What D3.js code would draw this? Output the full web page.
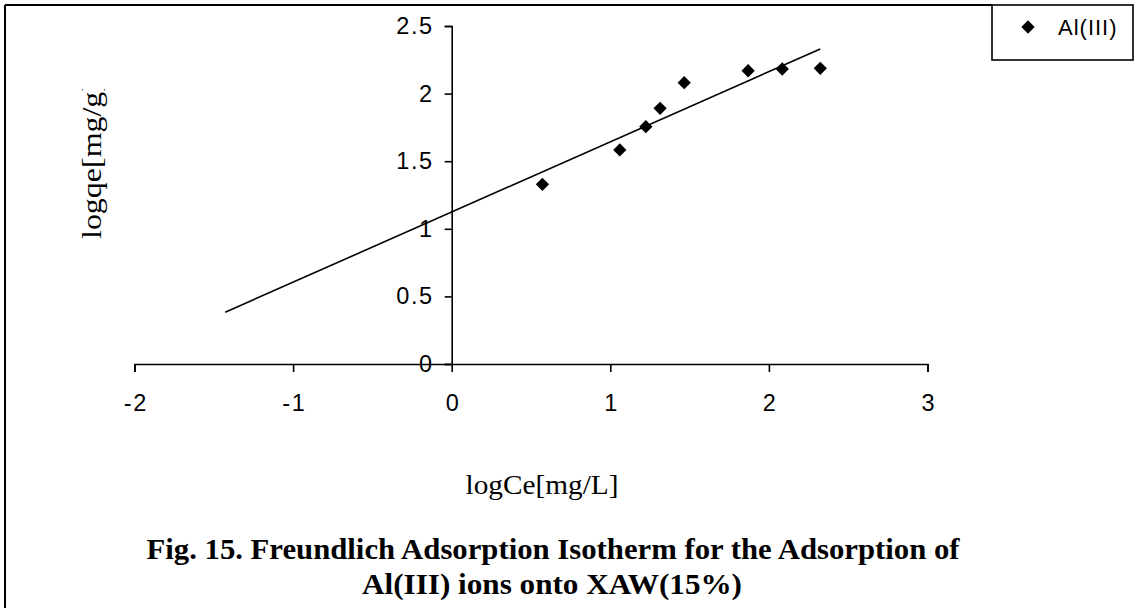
<!DOCTYPE html>
<html>
<head>
<meta charset="utf-8">
<script src="https://cdn.jsdelivr.net/npm/d3@7"></script>
<style>
  html, body { margin: 0; padding: 0; background: #fff; }
  svg { display: block; }
</style>
</head>
<body>
<svg id="chart" width="1136" height="608"></svg>
<script>
// Freundlich isotherm data: log Ce vs log qe for Al(III)
const logCe = [0.572, 1.060, 1.224, 1.314, 1.466, 1.869, 2.084, 2.324];
const logQe = [1.329, 1.583, 1.755, 1.891, 2.081, 2.169, 2.182, 2.187];
const seriesName = "Al(III)";
const xTicks = [-2, -1, 0, 1, 2, 3];
const yTicks = [0, 0.5, 1, 1.5, 2, 2.5];
const trendBackward = 2.0; // trendline extended back by this many x units

const svg = d3.select("#chart");
const W = 1136, H = 608;

// Frame (left and top edges)
svg.append("line").attr("x1", 5).attr("y1", 5).attr("x2", 5).attr("y2", H)
  .attr("stroke", "#000").attr("stroke-width", 2);
svg.append("line").attr("x1", 5).attr("y1", 5).attr("x2", 992).attr("y2", 5)
  .attr("stroke", "#000").attr("stroke-width", 2);

const x = d3.scaleLinear().domain([-2, 3]).range([134.5, 927.5]);
const y = d3.scaleLinear().domain([0, 2.5]).range([364, 26]);

const tickFont = "'Liberation Sans', Arial, sans-serif";
const serif = "'Liberation Serif', 'Times New Roman', serif";
const plainNum = d => String(d); // hyphen-minus, as typed
const spacing = 1.6;

function styleAxis(g) {
  g.attr("font-size", null).attr("font-family", null);
  g.select(".domain").attr("stroke", "#000").attr("stroke-width", 1.6);
  g.selectAll(".tick line").attr("stroke", "#000").attr("stroke-width", 1.6);
  g.selectAll(".tick text")
    .style("font-family", tickFont).style("font-size", "23.5px")
    .style("letter-spacing", spacing + "px").attr("fill", "#000");
}

// X axis through y = 0
svg.append("g")
  .attr("transform", `translate(0,${y(0)})`)
  .call(d3.axisBottom(x).tickValues(xTicks).tickSize(8).tickPadding(22).tickFormat(plainNum))
  .call(styleAxis)
  .selectAll(".tick text").attr("dx", spacing / 2);

// Y axis through x = 0
svg.append("g")
  .attr("transform", `translate(${x(0)},0)`)
  .call(d3.axisLeft(y).tickValues(yTicks).tickSize(7).tickPadding(11).tickFormat(plainNum))
  .call(styleAxis);

// Linear least-squares trendline
const n = logCe.length;
const mx = d3.mean(logCe), my = d3.mean(logQe);
let sxy = 0, sxx = 0;
for (let i = 0; i < n; i++) {
  sxy += (logCe[i] - mx) * (logQe[i] - my);
  sxx += (logCe[i] - mx) * (logCe[i] - mx);
}
const slope = sxy / sxx;
const intercept = my - slope * mx;
const x0 = d3.min(logCe) - trendBackward, x1 = d3.max(logCe);
svg.append("line")
  .attr("x1", x(x0)).attr("y1", y(intercept + slope * x0))
  .attr("x2", x(x1)).attr("y2", y(intercept + slope * x1))
  .attr("stroke", "#000").attr("stroke-width", 1.6);

// Diamond markers
const diamond = d3.symbol().type(d3.symbolSquare).size(88);
svg.append("g").selectAll("path")
  .data(logCe.map((v, i) => [v, logQe[i]]))
  .join("path")
  .attr("d", diamond)
  .attr("transform", d => `translate(${x(d[0])},${y(d[1])}) rotate(45)`)
  .attr("fill", "#000");

// Axis titles
svg.append("text")
  .attr("x", 542).attr("y", 494)
  .attr("text-anchor", "middle")
  .attr("font-family", serif).attr("font-size", 27)
  .attr("textLength", 153).attr("lengthAdjust", "spacingAndGlyphs")
  .text("logCe[mg/L]");

svg.append("defs").append("clipPath").attr("id", "ylabClip")
  .append("rect").attr("x", 50).attr("y", 89).attr("width", 80).attr("height", 200);
svg.append("g").attr("clip-path", "url(#ylabClip)")
  .append("text")
  .attr("transform", "translate(101,239) rotate(-90)")
  .attr("text-anchor", "start")
  .attr("font-family", serif).attr("font-size", 27)
  .attr("textLength", 158).attr("lengthAdjust", "spacingAndGlyphs")
  .text("logqe[mg/g]");

// Caption
const caption = svg.append("g").attr("font-family", serif).attr("font-weight", "bold")
  .attr("font-size", 30).attr("text-anchor", "middle");
caption.append("text").attr("x", 553).attr("y", 559)
  .attr("textLength", 813).attr("lengthAdjust", "spacingAndGlyphs")
  .text("Fig. 15. Freundlich Adsorption Isotherm for the Adsorption of");
caption.append("text").attr("x", 552).attr("y", 594)
  .attr("textLength", 380).attr("lengthAdjust", "spacingAndGlyphs")
  .text("Al(III) ions onto XAW(15%)");

// Legend
const legend = svg.append("g");
legend.append("rect").attr("x", 992).attr("y", 5).attr("width", 141).attr("height", 55)
  .attr("fill", "#fff").attr("stroke", "#000").attr("stroke-width", 1.6);
legend.append("path").attr("d", diamond)
  .attr("transform", "translate(1028,27) rotate(45)").attr("fill", "#000");
legend.append("text").attr("x", 1058).attr("y", 35)
  .style("font-family", tickFont).style("font-size", "22px").style("letter-spacing", "1px")
  .text(seriesName);
</script>
</body>
</html>
